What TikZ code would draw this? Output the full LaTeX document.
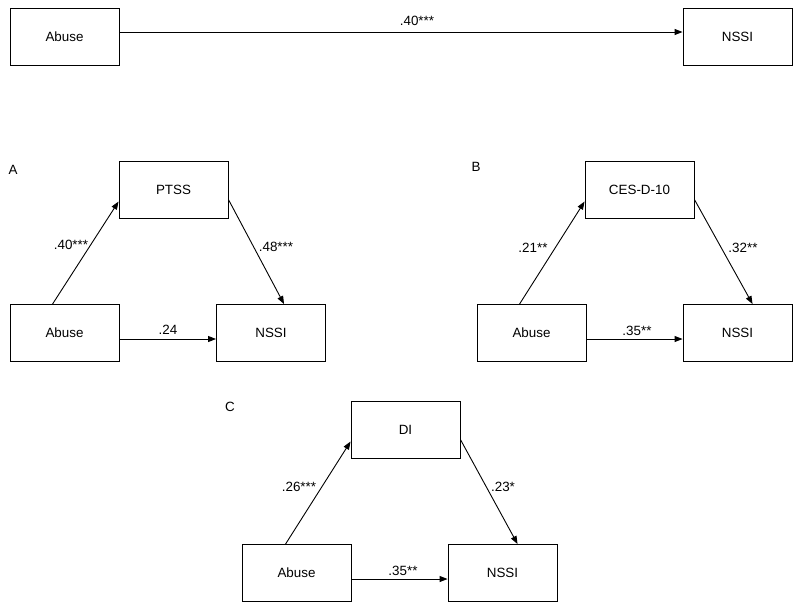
\documentclass[tikz,border=0pt]{standalone}
\usepackage{fontspec}
\setmainfont{Liberation Sans}
\usetikzlibrary{arrows.meta}
\begin{document}
\begin{tikzpicture}[x=1pt,y=-1pt,
  box/.style={draw=black,line width=0.9pt,minimum width=109pt,minimum height=57pt,inner sep=0pt,font=\fontsize{13.4}{16}\selectfont},
  lbl/.style={inner sep=0pt,font=\fontsize{13.4}{16}\selectfont},
  arr/.style={draw=black,line width=0.9pt,-{Triangle[length=8pt,width=6pt]}}]
\useasboundingbox (0,0) rectangle (800,611);
% top
\node[box] (abT) at (64.5,36.5) {Abuse};
\node[box] (nsT) at (737.5,36.5) {NSSI};
\draw[arr] ([yshift=4.5pt]abT.east) -- ([yshift=4.5pt]nsT.west);
\node[lbl] (lT) at (417,21) {.40***};
% A
\node[lbl] (pA) at (13,170) {A};
\node[box] (ptss) at (173.5,189.5) {PTSS};
\node[box] (abA) at (64.5,333) {Abuse};
\node[box] (nsA) at (271,333) {NSSI};
\draw[arr] ([xshift=43pt]abA.north west) -- ([yshift=-41pt]ptss.north west);
\draw[arr] ([yshift=-39pt]ptss.north east) -- ([xshift=68pt]nsA.north west);
\draw[arr] ([yshift=-6pt]abA.east) -- ([yshift=-6pt]nsA.west);
\node[lbl] (lA1) at (71,245) {.40***};
\node[lbl] (lA2) at (276,247) {.48***};
\node[lbl] (lA3) at (168,330) {.24};
% B
\node[lbl] (pB) at (476,167) {B};
\node[box] (ces) at (639.5,189.5) {CES-D-10};
\node[box] (abB) at (531.5,333) {Abuse};
\node[box] (nsB) at (737.5,333) {NSSI};
\draw[arr] ([xshift=43pt]abB.north west) -- ([yshift=-41pt]ces.north west);
\draw[arr] ([yshift=-39pt]ces.north east) -- ([xshift=70pt]nsB.north west);
\draw[arr] ([yshift=-6pt]abB.east) -- ([yshift=-6pt]nsB.west);
\node[lbl] (lB1) at (533,248) {.21**};
\node[lbl] (lB2) at (743,248) {.32**};
\node[lbl] (lB3) at (637,331) {.35**};
% C
\node[lbl] (pC) at (230,407) {C};
\node[box] (di) at (405.5,429.5) {DI};
\node[box] (abC) at (296.5,573) {Abuse};
\node[box] (nsC) at (502.5,573) {NSSI};
\draw[arr] ([xshift=44pt]abC.north west) -- ([yshift=-41pt]di.north west);
\draw[arr] ([yshift=-39pt]di.north east) -- ([xshift=70pt]nsC.north west);
\draw[arr] ([yshift=-6pt]abC.east) -- ([yshift=-6pt]nsC.west);
\node[lbl] (lC1) at (299,487) {.26***};
\node[lbl] (lC2) at (503,487) {.23*};
\node[lbl] (lC3) at (403,571) {.35**};
\end{tikzpicture}
\end{document}
